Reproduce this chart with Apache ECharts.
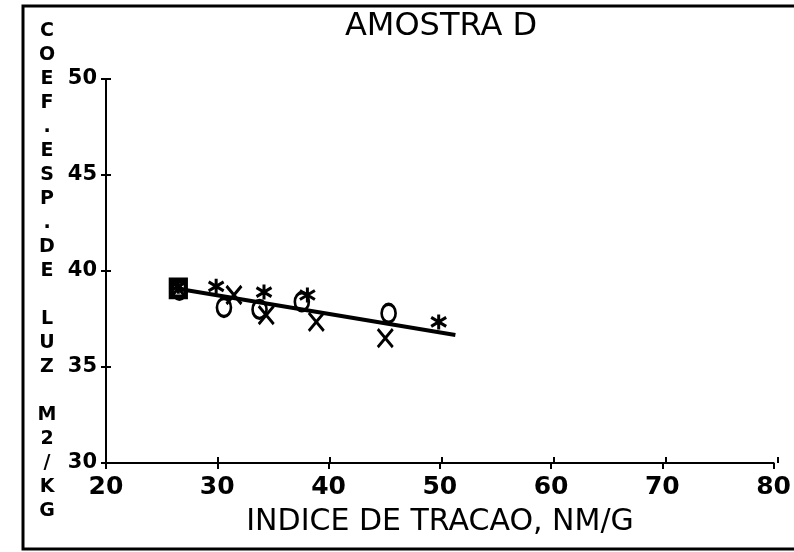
<!DOCTYPE html>
<html>
<head>
<meta charset="utf-8">
<script src="https://cdn.jsdelivr.net/npm/echarts@6/dist/echarts.min.js"></script>
<style>html,body{margin:0;padding:0;background:#fff;}#c{width:794px;height:552px;}</style>
</head>
<body>
<div id="c"></div>
<script>
const titleText = 'AMOSTRA D';
const xTitle = 'INDICE DE TRACAO, NM/G';
const yTitle = 'COEF.ESP.DE LUZ M2/KG';
const xMin = 20, xMax = 80, xStep = 10;
const yMin = 30, yMax = 50, yStep = 5;

const squareX = [26.5];
const squareY = [39.1];
const circleX = [26.6, 30.6, 33.8, 37.6, 45.4];
const circleY = [39.0, 38.1, 38.0, 38.4, 37.8];
const crossX = [26.5, 31.5, 34.4, 38.9, 45.1];
const crossY = [39.1, 38.75, 37.7, 37.35, 36.5];
const starX = [26.5, 29.9, 34.2, 38.1, 49.9];
const starY = [39.2, 39.2, 38.9, 38.75, 37.35];
const trendX = [26.6, 51.4];
const trendY = [39.06, 36.67];

const zip = (a, b) => a.map((v, i) => [v, b[i]]);
const markStyle = { color: 'rgba(0,0,0,0)', borderColor: '#000', borderWidth: 3, opacity: 1 };
const FONT = '"DejaVu Sans", sans-serif';

const chart = echarts.init(document.getElementById('c'), null, { renderer: 'canvas' });
const grid = { left: 106, right: 16, top: 79, bottom: 89 };

chart.setOption({
  animation: false,
  backgroundColor: '#fff',
  grid: [grid, grid],
  xAxis: [
    { type: 'value', gridIndex: 0, min: xMin, max: xMax, interval: xStep,
      axisLine: { show: true, lineStyle: { color: '#000', width: 2 } },
      axisTick: { show: true, length: 6, lineStyle: { color: '#000', width: 2 } },
      axisLabel: { color: '#000', fontSize: 25, fontWeight: 'bold', fontFamily: FONT, margin: 12 },
      splitLine: { show: false } },
    { type: 'value', gridIndex: 1, min: xMin, max: xMax, interval: xStep, position: 'bottom',
      axisLine: { show: false },
      axisTick: { show: true, inside: true, length: 6, lineStyle: { color: '#000', width: 2 } },
      axisLabel: { show: false }, splitLine: { show: false } }
  ],
  yAxis: [
    { type: 'value', gridIndex: 0, min: yMin, max: yMax, interval: yStep,
      axisLine: { show: true, lineStyle: { color: '#000', width: 2 } },
      axisTick: { show: true, length: 5, lineStyle: { color: '#000', width: 2 } },
      axisLabel: { color: '#000', fontSize: 21, fontWeight: 'bold', fontFamily: FONT, margin: 9 },
      splitLine: { show: false } },
    { type: 'value', gridIndex: 1, min: yMin, max: yMax, interval: yStep, position: 'left',
      axisLine: { show: false },
      axisTick: { show: true, inside: true, length: 5, lineStyle: { color: '#000', width: 2 } },
      axisLabel: { show: false }, splitLine: { show: false } }
  ],
  series: [
    { type: 'line', data: zip(trendX, trendY), showSymbol: false, symbol: 'none',
      lineStyle: { color: '#000', width: 4 }, z: 2 },
    { type: 'scatter', data: zip(squareX, squareY), symbol: 'rect', symbolSize: [15, 17],
      itemStyle: { color: 'rgba(0,0,0,0)', borderColor: '#000', borderWidth: 4.5, opacity: 1 }, z: 3 },
    { type: 'scatter', data: zip(circleX, circleY), symbol: 'circle', symbolSize: [14, 18],
      itemStyle: markStyle, z: 3 },
    { type: 'scatter', data: zip(crossX, crossY),
      symbol: 'path://M0,0L10,12M10,0L0,12', symbolSize: [15, 18],
      itemStyle: markStyle, z: 3 },
    { type: 'scatter', data: zip(starX, starY),
      symbol: 'path://M5,0L5,10M0,2L10,8M10,2L0,8', symbolSize: [15, 15],
      itemStyle: markStyle, z: 3 }
  ],
  graphic: [
    { type: 'rect', shape: { x: 23, y: 6, width: 800, height: 543 },
      style: { fill: 'none', stroke: '#000', lineWidth: 3 }, z: 0, silent: true },
    { type: 'text', x: 441, y: 27,
      style: { text: titleText, font: '32px ' + FONT, fill: '#000', textAlign: 'center', textVerticalAlign: 'middle' } },
    { type: 'text', x: 440, y: 522,
      style: { text: xTitle, font: '30px ' + FONT, fill: '#000', textAlign: 'center', textVerticalAlign: 'middle' } },
    { type: 'text', x: 47, y: 19,
      style: { text: yTitle.split('').join('\n'), font: 'bold 19px ' + FONT, lineHeight: 24,
        fill: '#000', textAlign: 'center', textVerticalAlign: 'top' } }
  ]
});
</script>
</body>
</html>
